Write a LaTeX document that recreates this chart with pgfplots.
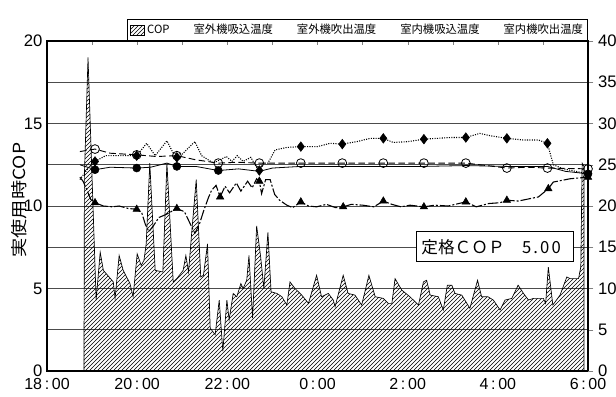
\documentclass[border=0pt]{standalone}
\usepackage{fontspec}
\setmainfont{Liberation Sans}
\newfontfamily\jp{Noto Sans CJK JP}
\usepackage{pgfplots}
\pgfplotsset{compat=1.18}
\usetikzlibrary{patterns}

\begin{document}
\begin{tikzpicture}
\begin{axis}[name=ax, scale only axis, width=405.75pt, height=247.5pt,
  xmin=0, xmax=12, ymin=0, ymax=20,
  /pgf/number format/assume math mode=true,
  xtick={0,2,...,12},
  xticklabels={18\,:\,00,20\,:\,00,22\,:\,00,0\,:\,00,2\,:\,00,4\,:\,00,6\,:\,00},
  minor x tick num=1, xtick pos=right, xticklabel pos=left, tick align=inside,
  major tick length=3pt, minor tick length=3pt,
  xticklabel style={yshift=-5pt, inner ysep=0.5pt, font=\fontsize{12}{13}\selectfont},
  ytick={0,5,...,20}, minor y tick num=1, ymajorgrids, yminorgrids,
  ytick pos=left, ytick style={draw=none}, minor y tick style={draw=none},
  grid style={black!70, line width=0.6pt},
  axis line style={line width=0.8pt},
  yticklabel style={font=\fontsize{12.5}{14}\selectfont, inner ysep=0.5pt},
  ylabel={\scalebox{1.15}[1]{\jp 実使用時COP}},
  ylabel style={font=\fontsize{12.5}{14}\selectfont, at={(axis description cs:-0.052,0.518)}, anchor=center},
]
\addplot[draw=black, line width=0.5pt, pattern=north east lines] coordinates {
(0.82,0) (0.83,11.9) (0.91,19.0) (1.09,4.3) (1.18,7.2) (1.25,6.1) (1.47,5.4) (1.51,4.4)
(1.60,7.0) (1.69,6.1) (1.84,5.3) (1.91,4.5) (2.00,7.1) (2.09,6.4) (2.15,6.7) (2.20,7.7)
(2.28,12.6) (2.40,6.1) (2.57,6.0) (2.66,12.6) (2.80,5.4) (2.88,5.6) (3.02,6.1) (3.08,7.0)
(3.14,6.0) (3.21,8.4) (3.31,11.6) (3.41,5.7) (3.47,5.8) (3.56,7.7) (3.62,2.6) (3.73,2.2)
(3.82,4.3) (3.90,1.2) (3.99,4.3) (4.04,3.1) (4.13,4.7) (4.21,4.5) (4.30,5.3) (4.35,5.0)
(4.43,5.5) (4.48,7.0) (4.56,3.2) (4.65,8.8) (4.74,6.9) (4.81,5.0) (4.90,8.4) (4.97,4.8)
(5.10,4.7) (5.21,4.5) (5.32,4.0) (5.39,5.4) (5.50,5.0) (5.65,4.6) (5.80,4.1) (5.98,5.8)
(6.09,4.5) (6.24,4.7) (6.35,4.3) (6.39,3.9) (6.57,5.8) (6.68,4.7) (6.83,4.6) (6.98,4.0)
(7.14,5.8) (7.28,4.5) (7.46,4.4) (7.57,4.1) (7.65,4.1) (7.72,5.6) (7.87,4.9) (8.05,4.5)
(8.24,4.0) (8.35,5.4) (8.42,5.5) (8.50,4.6) (8.68,4.5) (8.79,3.7) (8.88,5.2) (8.98,5.2)
(9.05,4.7) (9.20,4.6) (9.38,3.8) (9.55,5.5) (9.64,4.5) (9.78,4.5) (9.90,4.3) (10.05,3.7)
(10.16,4.3) (10.31,4.4) (10.45,5.2) (10.57,4.7) (10.68,4.3) (10.79,4.4) (11.01,4.4)
(11.06,4.1) (11.12,6.3) (11.22,4.0) (11.38,4.6) (11.53,5.7) (11.60,5.6) (11.79,5.6)
(11.84,6.3) (11.87,12.6) (11.91,12.4) (11.91,0)
} -- cycle;
\end{axis}
\begin{axis}[scale only axis, width=405.75pt, height=247.5pt,
  at={(ax.south west)}, anchor=south west,
  xmin=0, xmax=12, ymin=0, ymax=40,
  /pgf/number format/assume math mode=true,
  axis x line=none, axis y line*=right,
  ytick={0,5,...,40}, tick align=outside, major tick length=4pt,
  axis line style={line width=0.8pt},
  yticklabel style={font=\fontsize{12.5}{14}\selectfont, inner ysep=0.5pt},
  legend style={at={(rel axis cs:1,1)}, anchor=south east, draw=black, line width=0.6pt,
    font=\jp\fontsize{8.5}{10}\selectfont, inner sep=1.5pt,
    /tikz/every even column/.append style={column sep=14pt}},
  legend columns=5,
]
\addlegendimage{legend image code/.code={\draw[line width=0.5pt, pattern=north east lines] (0pt,-3.5pt) rectangle (10.5pt,3.5pt);}}
\addlegendentry{COP}
% outdoor intake: solid, filled circles
\addplot[black, line width=0.6pt, legend image code/.code={}] coordinates {
(0.73,25.0) (1.065,24.4) (1.40,24.7) (1.99,24.6) (2.30,24.7) (2.66,25.2) (2.88,24.8)
(3.30,24.8) (3.80,24.3) (4.25,24.5) (4.71,24.2) (5.00,24.6) (5.63,24.8) (6.55,24.8)
(7.46,24.8) (8.36,24.8) (9.29,24.9) (10.20,24.8) (11.10,24.8) (11.50,24.2) (12.0,23.9)
};
\addlegendentry{室外機吸込温度}
% outdoor outlet: dotted, diamonds
\addplot[black, line width=0.8pt, densely dotted, legend image code/.code={}] coordinates {
(0.73,23.2) (0.90,24.5) (1.065,25.4) (1.30,26.1) (1.99,26.1) (2.21,27.6) (2.40,26.1)
(2.66,27.9) (2.80,26.4) (3.00,26.3) (3.28,27.8) (3.43,26.1) (3.69,25.2) (3.98,26.0)
(4.10,25.4) (4.22,26.1) (4.35,25.4) (4.52,25.9) (4.66,24.6) (4.71,24.3) (4.80,25.2)
(4.90,25.2) (5.06,26.8) (5.32,27.1) (5.63,27.2) (6.00,27.2) (6.28,27.6) (6.55,27.5)
(6.87,27.8) (7.17,28.2) (7.46,28.2) (7.68,27.7) (8.00,27.8) (8.36,28.1) (8.94,28.3)
(9.29,28.3) (9.60,28.8) (9.85,28.5) (10.20,28.2) (10.56,28.0) (10.90,28.0) (11.10,27.6)
(11.23,25.0) (11.45,24.5) (12.0,23.9)
};
\addlegendentry{室外機吹出温度}
% indoor intake: dashed, open circles
\addplot[black, line width=0.7pt, dash pattern=on 5pt off 2.5pt, legend image code/.code={}] coordinates {
(0.73,26.6) (1.065,26.9) (1.40,26.4) (1.70,26.3) (1.99,26.2) (2.43,26.0) (2.88,26.1)
(3.30,25.6) (3.80,25.2) (4.20,25.3) (4.71,25.2) (5.63,25.2) (6.55,25.2) (7.46,25.2)
(8.36,25.2) (9.29,25.2) (9.75,24.9) (10.20,24.6) (10.65,24.7) (11.10,24.6) (12.0,24.5)
};
\addlegendentry{室内機吸込温度}
% indoor outlet: dash-dot, triangles
\addplot[black, line width=0.8pt, dash pattern=on 8pt off 1.5pt on 1.5pt off 1.5pt, legend image code/.code={}] coordinates {
(0.73,23.5) (0.80,23.0) (0.88,22.0) (0.97,20.8) (1.065,20.4) (1.25,20.0) (1.45,19.9)
(1.60,20.0) (1.80,19.7) (1.99,19.6) (2.10,19.2) (2.18,17.8) (2.26,16.9) (2.36,17.6)
(2.48,18.6) (2.65,19.0) (2.88,19.7) (3.05,19.3) (3.18,17.8) (3.28,16.7) (3.38,17.8)
(3.48,19.5) (3.58,21.0) (3.65,21.9) (3.75,22.5) (3.84,21.1) (3.95,22.4) (4.05,21.6)
(4.20,22.8) (4.30,21.8) (4.45,23.0) (4.55,22.2) (4.65,23.3) (4.71,23.0) (4.76,21.5)
(4.85,23.2) (4.95,23.2) (5.05,21.4) (5.16,20.7) (5.32,20.1) (5.45,19.8) (5.63,20.5)
(5.80,20.0) (5.98,19.9) (6.20,20.2) (6.40,19.8) (6.57,19.9) (6.75,20.2) (7.00,20.1)
(7.25,19.9) (7.46,20.6) (7.65,20.2) (7.85,19.9) (8.05,20.1) (8.36,19.9) (8.60,20.1)
(8.90,20.0) (9.29,20.5) (9.52,19.9) (9.80,20.3) (10.05,20.4) (10.20,20.7) (10.45,20.6)
(10.90,21.1) (11.12,22.1) (11.23,22.9) (11.60,23.3) (12.0,23.5)
};
\addlegendentry{室内機吹出温度}
% markers
\addplot[only marks, mark=triangle*, mark size=3.2pt, black, forget plot] coordinates {
(1.065,20.4) (1.99,19.6) (2.88,19.7) (3.84,21.1) (4.71,23.0) (5.63,20.5) (6.57,19.9)
(7.46,20.6) (8.36,19.9) (9.29,20.5) (10.20,20.7) (11.12,22.1) (12.0,23.5)
};
\addplot[only marks, mark=diamond*, mark size=3.6pt, black, forget plot] coordinates {
(1.065,25.4) (1.99,26.1) (2.88,25.9) (4.71,24.3) (5.63,27.2) (6.55,27.5) (7.46,28.2)
(8.36,28.1) (9.29,28.3) (10.20,28.2) (11.10,27.6) (12.0,23.9)
};
\addplot[only marks, mark=*, mark size=3pt, black, forget plot] coordinates {
(1.065,24.4) (1.99,24.6) (2.88,24.8) (3.80,24.3) (12.0,23.9)
};
\addplot[only marks, mark=o, mark size=3.3pt, black, mark options={fill=white, line width=0.6pt}, forget plot] coordinates {
(1.065,26.9) (1.99,26.2) (2.88,26.1) (3.80,25.2) (4.71,25.2) (5.63,25.2) (6.55,25.2)
(7.46,25.2) (8.36,25.2) (9.29,25.2) (10.20,24.6) (11.10,24.6) (12.0,24.5)
};
\node[draw, line width=1.1pt, fill=white, anchor=west, inner xsep=0pt, minimum height=22.5pt,
  font=\jp\fontsize{12.5}{14}\selectfont] at (axis cs:8.185,15.06)
  {\makebox[117.5pt][l]{\hspace{3.5pt}定格ＣＯＰ\hspace{13pt}5\kern1.6pt.\kern1.6pt0\kern1.6pt0}};
\end{axis}
\pgfresetboundingbox
\path[use as bounding box] ([shift={(-35.25pt,-18.75pt)}]ax.south west) rectangle ++(462pt,297pt);
\end{tikzpicture}
\end{document}
